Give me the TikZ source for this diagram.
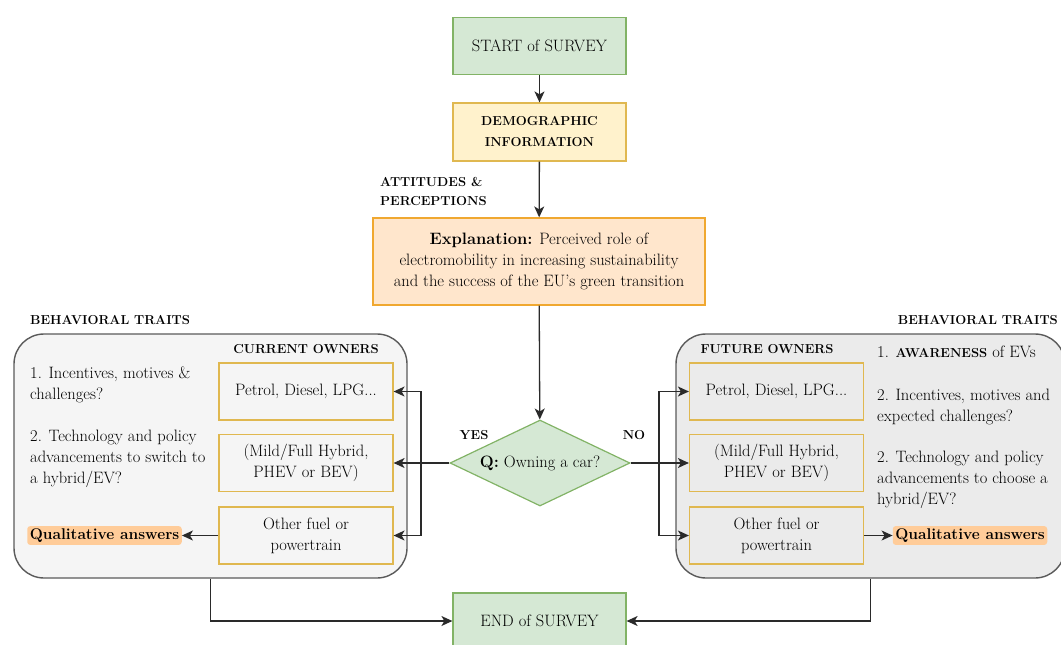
\documentclass[tikz,border=0pt]{standalone}
\usepackage{tikz, xcolor}
\usetikzlibrary{arrows.meta, calc, shapes.geometric}

\definecolor{greenfill}{HTML}{D5E8D4}
\definecolor{greenline}{HTML}{82B366}
\definecolor{yellowfill}{HTML}{FFF2CC}
\definecolor{yellowline}{HTML}{E0B850}
\definecolor{orangefill}{HTML}{FFE6CC}
\definecolor{orangeline}{HTML}{F0A830}
\definecolor{answerfill}{HTML}{FFCC99}
\definecolor{groupline}{HTML}{5A5A5A}
\definecolor{linkline}{HTML}{2A2A2A}

\begin{document}
\begin{tikzpicture}[
  x=1pt, y=-1pt,
  font=\fontsize{16.5}{21}\selectfont,
  stagebox/.style={
    % The shape:
    rectangle,
    minimum width=173pt,
    minimum height=57pt,
    % The border and filling:
    draw=greenline,
    fill=greenfill,
    line width=1.2pt
  },
  infobox/.style={
    rectangle,
    minimum width=173pt,
    minimum height=58pt,
    draw=yellowline,
    fill=yellowfill,
    line width=1.2pt,
    align=center
  },
  explbox/.style={
    rectangle,
    minimum width=332pt,
    minimum height=87pt,
    draw=orangeline,
    fill=orangefill,
    line width=1.2pt,
    align=center
  },
  question/.style={
    diamond,
    shape aspect=2.1,
    minimum width=180pt,
    minimum height=86pt,
    inner sep=0pt,
    draw=greenline,
    fill=greenfill,
    line width=1.2pt
  },
  groupbox/.style={
    % The rounded container:
    rectangle,
    rounded corners=30pt,
    draw=groupline,
    line width=1.4pt
  },
  fuelbox/.style={
    rectangle,
    minimum width=174pt,
    minimum height=57pt,
    draw=yellowline,
    line width=1.2pt,
    align=center
  },
  answer/.style={
    rectangle,
    rounded corners=3pt,
    fill=answerfill,
    font=\fontsize{15.5}{21}\selectfont\bfseries,
    inner sep=2.5pt
  },
  heading/.style={
    font=\fontsize{13}{19}\selectfont\bfseries,
    inner sep=0pt
  },
  note/.style={
    align=left,
    anchor=north west,
    inner sep=0pt
  },
  link/.style={
    draw=linkline,
    line width=1.3pt,
    -{Stealth[length=11pt, width=10pt, inset=3pt]}
  }
  ]

  \useasboundingbox (0, 0) rectangle (1061, 645);
  \clip (0, 0) rectangle (1061, 645);

  % main column
  \node (start) [stagebox] at (539.5, 46) {START of SURVEY};
  \node (demo) [infobox] at (539.5, 132) {\fontsize{13}{21}\selectfont\bfseries DEMOGRAPHIC\\\fontsize{13}{21}\selectfont\bfseries INFORMATION};
  \node (att) [heading, align=left, anchor=west] at (380, 191) {ATTITUDES \&\\PERCEPTIONS};
  \node (expl) [explbox] at (539, 261.5) {\textbf{Explanation:} Perceived role of\\electromobility in increasing sustainability\\and the success of the EU's green transition};
  \node (q) [question] at (540, 463) {\textbf{Q:} Owning a car?};
  \node (yes) [heading] at (474, 435) {YES};
  \node (no) [heading] at (634, 435) {NO};
  \node (end) [stagebox, minimum height=56pt] at (539.5, 621) {END of SURVEY};

  % current owners (left)
  \node (curgrp) [groupbox, fill=black!4, minimum width=393pt, minimum height=244pt] at (210.5, 456) {};
  \node (curtraits) [heading, anchor=west] at (30, 320) {BEHAVIORAL TRAITS};
  \node (curhead) [heading] at (306, 349) {CURRENT OWNERS};
  \node (cur1) [fuelbox] at (306, 391.5) {Petrol, Diesel, LPG...};
  \node (cur2) [fuelbox] at (306, 463) {(Mild/Full Hybrid,\\PHEV or BEV)};
  \node (cur3) [fuelbox] at (306, 535.5) {Other fuel or\\powertrain};
  \node (curnote1) [note] at (30, 367) {1. Incentives, motives \&\\challenges?};
  \node (curnote2) [note] at (30, 430) {2. Technology and policy\\advancements to switch to\\a hybrid/EV?};
  \node (curans) [answer] at (104.5, 535.5) {Qualitative answers};

  % future owners (right)
  \node (futgrp) [groupbox, fill=black!8, minimum width=389pt, minimum height=244pt] at (870.5, 456) {};
  \node (futtraits) [heading, anchor=east] at (1058, 320) {BEHAVIORAL TRAITS};
  \node (futhead) [heading] at (767, 349) {FUTURE OWNERS};
  \node (fut1) [fuelbox] at (776.5, 391.5) {Petrol, Diesel, LPG...};
  \node (fut2) [fuelbox] at (776.5, 463) {(Mild/Full Hybrid,\\PHEV or BEV)};
  \node (fut3) [fuelbox] at (776.5, 535.5) {Other fuel or\\powertrain};
  \node (futnote1) [note] at (877, 346) {1. {\fontsize{13}{21}\selectfont\bfseries AWARENESS} of EVs};
  \node (futnote2) [note] at (877, 389) {2. Incentives, motives and\\expected challenges?};
  \node (futnote3) [note] at (877, 451) {2. Technology and policy\\advancements to choose a\\hybrid/EV?};
  \node (futans) [answer] at (970, 535.5) {Qualitative answers};

  % column arrows
  \draw [link] (start) -- (demo);
  \draw [link] (demo) -- (expl);
  \draw [link] (expl) -- (q);

  % YES branch
  \coordinate (yjoin) at (421, 463);
  \draw [link] (q.west) -- (cur2.east);
  \draw [link] (yjoin) |- (cur1.east);
  \draw [link] (yjoin) |- (cur3.east);
  \draw [link] (cur3.west) -- (curans.east);

  % NO branch
  \coordinate (njoin) at (659, 463);
  \draw [link] (q.east) -- (fut2.west);
  \draw [link] (njoin) |- (fut1.west);
  \draw [link] (njoin) |- (fut3.west);
  \draw [link] (fut3.east) -- (futans.west);

  % to the end
  \draw [link] (curgrp.south) |- (end.west);
  \draw [link] (futgrp.south) |- (end.east);

\end{tikzpicture}
\end{document}
